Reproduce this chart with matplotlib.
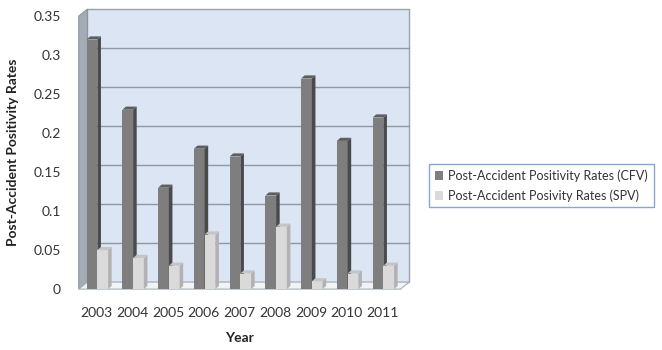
import matplotlib.pyplot as plt
from matplotlib.patches import Polygon, Rectangle
import numpy as np

years = ["2003", "2004", "2005", "2006", "2007", "2008", "2009", "2010", "2011"]
cfv_rates = [0.32, 0.23, 0.13, 0.18, 0.17, 0.12, 0.27, 0.19, 0.22]
spv_rates = [0.05, 0.04, 0.03, 0.07, 0.02, 0.08, 0.01, 0.02, 0.03]
y_ticks = [0, 0.05, 0.1, 0.15, 0.2, 0.25, 0.3, 0.35]

plt.rcParams["font.family"] = ["Lato", "DejaVu Sans"]

fig = plt.figure(figsize=(6.62, 3.5), dpi=100)
ax = fig.add_axes([0.119, 0.174, 0.486, 0.78])
ax.set_xlim(-0.5, len(years) - 0.5)
ax.set_ylim(0, 0.35)
ax.set_facecolor("none")
for s in ax.spines.values():
    s.set_visible(False)

# depth of the walls and of the columns, in data units
dx, dy = 0.24, 0.009
bdx, bdy = 0.1, 0.004
x0, x1 = -0.5, len(years) - 0.5
ytop = y_ticks[-1]

# back wall with gridlines
ax.add_patch(Rectangle((x0 + dx, dy), x1 - x0, ytop, facecolor="#dbe5f3",
                       edgecolor="#9aa3ad", lw=1.0, zorder=0, clip_on=False))
for t in y_ticks[1:-1]:
    ax.plot([x0 + dx, x1 + dx], [t + dy, t + dy], color="#8f99a4", lw=1.0,
            zorder=1, clip_on=False)
# left wall
ax.add_patch(Polygon([(x0, 0), (x0 + dx, dy), (x0 + dx, ytop + dy), (x0, ytop)],
                     closed=True, facecolor="#a4acb6", edgecolor="#8d959f", lw=0.8,
                     zorder=1, clip_on=False))
# floor
ax.add_patch(Polygon([(x0, 0), (x1, 0), (x1 + dx, dy), (x0 + dx, dy)],
                     closed=True, facecolor="#f2f3f6", edgecolor="#a9b0b8", lw=0.8,
                     zorder=1, clip_on=False))


def column(x, h, w, front, side, top):
    ax.add_patch(Rectangle((x, 0), w, h, facecolor=front, edgecolor="none", zorder=3))
    ax.add_patch(Polygon([(x + w, 0), (x + w + bdx, bdy), (x + w + bdx, h + bdy), (x + w, h)],
                         closed=True, facecolor=side, edgecolor="none", zorder=3))
    ax.add_patch(Polygon([(x, h), (x + w, h), (x + w + bdx, h + bdy), (x + bdx, h + bdy)],
                         closed=True, facecolor=top, edgecolor="none", zorder=3))


w = 0.3
xs = np.arange(len(years))
for i in xs:
    column(i - w + 0.02, cfv_rates[i], w, "#7e7e7e", "#4a4a4a", "#5e5e5e")
    column(i + 0.02, spv_rates[i], w, "#dadada", "#b2b2b2", "#c4c4c4")

ax.set_xticks(xs)
ax.set_xticklabels(years)
ax.set_yticks(y_ticks)
ax.set_yticklabels(["0", "0.05", "0.1", "0.15", "0.2", "0.25", "0.3", "0.35"])
ax.tick_params(length=0, labelsize=10, colors="#333333")
ax.tick_params(axis="y", pad=13)
ax.tick_params(axis="x", pad=13)
ax.set_xlabel("Year", fontsize=10, fontweight="bold", color="#222222", labelpad=9)
ax.set_ylabel("Post-Accident Positivity Rates", fontsize=10, fontweight="bold",
              color="#222222", labelpad=10)

handles = [Rectangle((0, 0), 1, 1, facecolor="#7e7e7e", edgecolor="none"),
           Rectangle((0, 0), 1, 1, facecolor="#dadada", edgecolor="none")]
labels = ["Post-Accident Positivity Rates (CFV)", "Post-Accident Posivity Rates (SPV)"]
leg = fig.legend(handles, labels, loc="center left", bbox_to_anchor=(0.648, 0.47),
                 fontsize=9, frameon=True, fancybox=False, handlelength=0.7,
                 handleheight=0.7, handletextpad=0.4, labelspacing=0.6,
                 borderpad=0.45, borderaxespad=0, labelcolor="#333333")
leg.get_frame().set_edgecolor("#6f8fc4")
leg.get_frame().set_linewidth(1.0)

fig.savefig("out.png", dpi=100)
